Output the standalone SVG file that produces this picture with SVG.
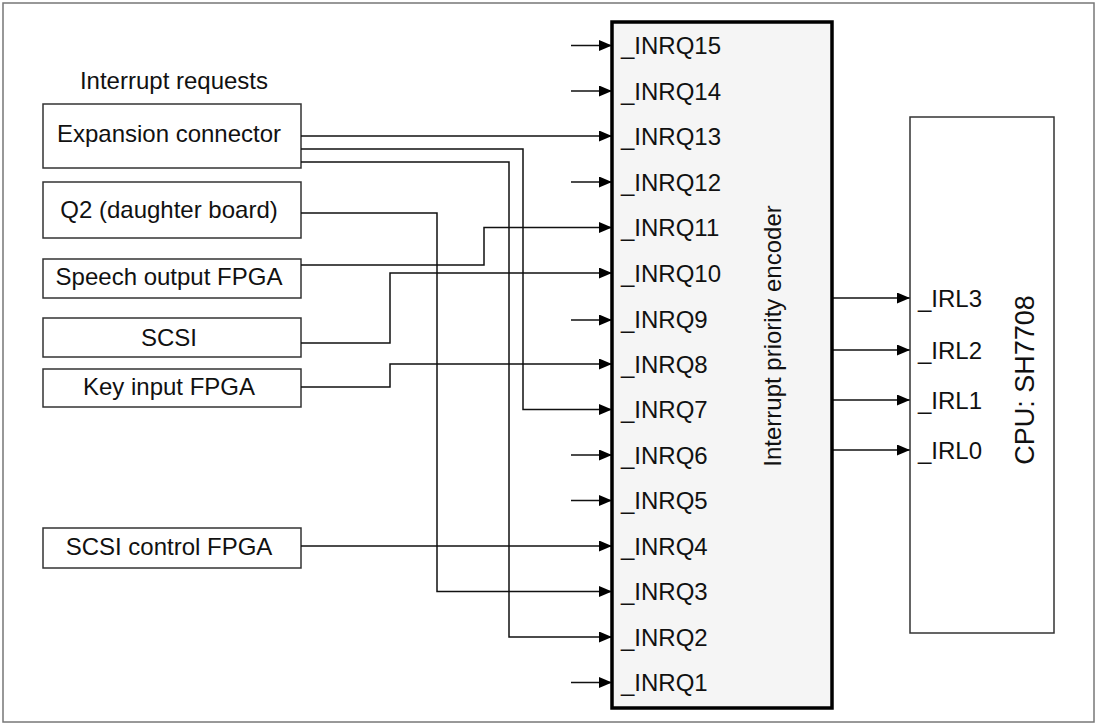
<svg xmlns="http://www.w3.org/2000/svg" width="1100" height="725" viewBox="0 0 1100 725">
<defs>
<style>
text{font-family:"Liberation Sans",Arial,sans-serif;font-size:24px;fill:#111}
.box{fill:#fff;stroke:#333;stroke-width:1.5}
.enc{fill:#f5f5f5;stroke:#000;stroke-width:3.5}
.w{fill:none;stroke:#111;stroke-width:1.5}
.mid{text-anchor:middle}
.big{font-size:27px}
</style>
<marker id="ah" markerUnits="userSpaceOnUse" markerWidth="14" markerHeight="12" refX="13" refY="5.5" orient="auto">
<path d="M0,0 L13,5.5 L0,11 z" fill="#000"/>
</marker>
</defs>
<rect x="0" y="0" width="1100" height="725" fill="#fff"/>
<rect x="3" y="3" width="1091" height="719" fill="none" stroke="#777" stroke-width="1.5"/>
<text id="title" x="174" y="89" class="mid">Interrupt requests</text>
<g id="expansion"><rect class="box" x="43" y="104" width="258" height="64"/><text x="169" y="142" class="mid">Expansion connector</text></g>
<g id="q2"><rect class="box" x="43" y="182" width="258" height="56"/><text x="169" y="218" class="mid">Q2 (daughter board)</text></g>
<g id="speech"><rect class="box" x="43" y="259" width="258" height="39"/><text x="169" y="285" class="mid">Speech output FPGA</text></g>
<g id="scsi"><rect class="box" x="43" y="318" width="258" height="39"/><text x="169" y="346" class="mid">SCSI</text></g>
<g id="keyinput"><rect class="box" x="43" y="369" width="258" height="38"/><text x="169" y="395" class="mid">Key input FPGA</text></g>
<g id="scsictrl"><rect class="box" x="43" y="528" width="258" height="40"/><text x="169" y="555" class="mid">SCSI control FPGA</text></g>
<g id="connectors">
<polyline class="w" points="301,136 612,136" marker-end="url(#ah)"/>
<polyline class="w" points="301,149 523,149 523,409.5 612,409.5" marker-end="url(#ah)"/>
<polyline class="w" points="301,162 509,162 509,637 612,637" marker-end="url(#ah)"/>
<polyline class="w" points="301,213 437,213 437,591.5 612,591.5" marker-end="url(#ah)"/>
<polyline class="w" points="301,265 484,265 484,227.5 612,227.5" marker-end="url(#ah)"/>
<polyline class="w" points="301,343 390,343 390,273 612,273" marker-end="url(#ah)"/>
<polyline class="w" points="301,387 390,387 390,364 612,364" marker-end="url(#ah)"/>
<polyline class="w" points="301,546 612,546" marker-end="url(#ah)"/>
<line class="w" x1="571" y1="45.5" x2="612" y2="45.5" marker-end="url(#ah)"/>
<line class="w" x1="571" y1="91" x2="612" y2="91" marker-end="url(#ah)"/>
<line class="w" x1="571" y1="182" x2="612" y2="182" marker-end="url(#ah)"/>
<line class="w" x1="571" y1="320" x2="612" y2="320" marker-end="url(#ah)"/>
<line class="w" x1="571" y1="455" x2="612" y2="455" marker-end="url(#ah)"/>
<line class="w" x1="571" y1="500.5" x2="612" y2="500.5" marker-end="url(#ah)"/>
<line class="w" x1="571" y1="682.5" x2="612" y2="682.5" marker-end="url(#ah)"/>
<line class="w" x1="833" y1="298" x2="910" y2="298" marker-end="url(#ah)"/>
<line class="w" x1="833" y1="350" x2="910" y2="350" marker-end="url(#ah)"/>
<line class="w" x1="833" y1="400" x2="910" y2="400" marker-end="url(#ah)"/>
<line class="w" x1="833" y1="450" x2="910" y2="450" marker-end="url(#ah)"/>
</g>
<g id="encoder">
<rect class="enc" x="612" y="22" width="220" height="686"/>
<text x="621" y="54">_INRQ15</text>
<text x="621" y="99.5">_INRQ14</text>
<text x="621" y="145">_INRQ13</text>
<text x="621" y="190.5">_INRQ12</text>
<text x="621" y="236">_INRQ11</text>
<text x="621" y="281.5">_INRQ10</text>
<text x="621" y="328">_INRQ9</text>
<text x="621" y="372.5">_INRQ8</text>
<text x="621" y="418">_INRQ7</text>
<text x="621" y="463.5">_INRQ6</text>
<text x="621" y="509">_INRQ5</text>
<text x="621" y="554.5">_INRQ4</text>
<text x="621" y="600">_INRQ3</text>
<text x="621" y="645.5">_INRQ2</text>
<text x="621" y="691">_INRQ1</text>
<text transform="translate(781,336) rotate(-90)" class="mid">Interrupt priority encoder</text>
</g>
<g id="cpu">
<rect class="box" x="910" y="117" width="144" height="516"/>
<text x="918" y="306.5">_IRL3</text>
<text x="918" y="358.5">_IRL2</text>
<text x="918" y="408.5">_IRL1</text>
<text x="918" y="458.5">_IRL0</text>
<text transform="translate(1034,380) rotate(-90)" class="mid big">CPU: SH7708</text>
</g>
</svg>
